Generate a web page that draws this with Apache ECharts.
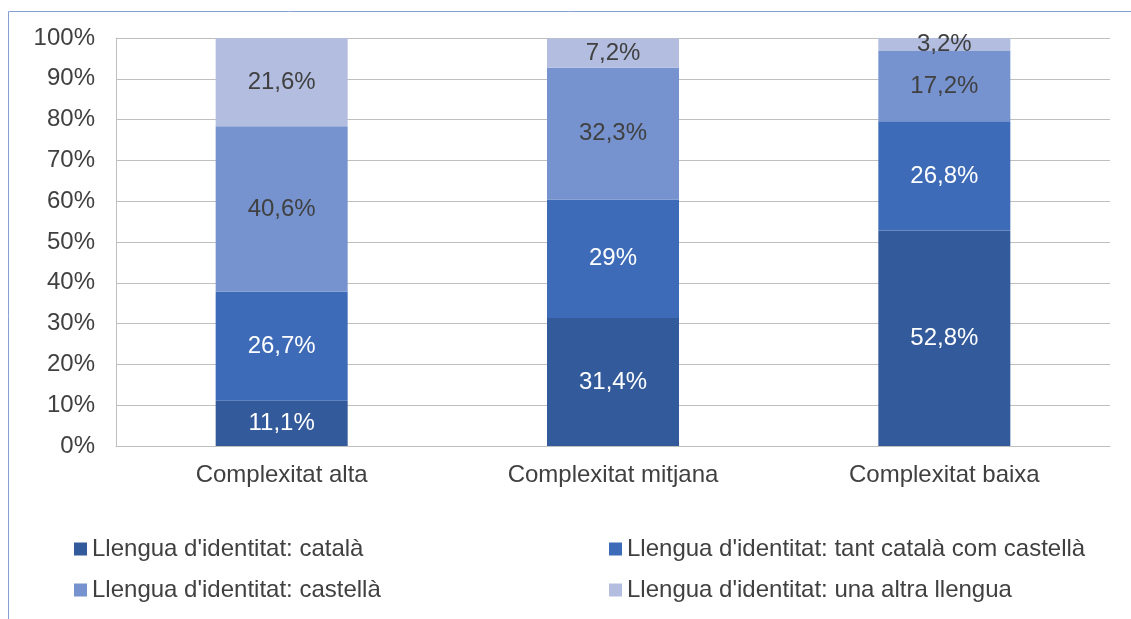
<!DOCTYPE html>
<html>
<head>
<meta charset="utf-8">
<script src="https://cdn.jsdelivr.net/npm/echarts@6/dist/echarts.min.js"></script>
<style>
  html, body { margin: 0; padding: 0; background: #fff; }
  #main { width: 1131px; height: 619px; }
</style>
</head>
<body>
<div id="main"></div>
<script>
// categories and values (percent)
var categories = ['Complexitat alta', 'Complexitat mitjana', 'Complexitat baixa'];
var seriesNames = [
  "Llengua d'identitat: català",
  "Llengua d'identitat: tant català com castellà",
  "Llengua d'identitat: castellà",
  "Llengua d'identitat: una altra llengua"
];
var catala = [11.1, 31.4, 52.8];
var tantCatalaCastella = [26.7, 29, 26.8];
var castella = [40.6, 32.3, 17.2];
var altraLlengua = [21.6, 7.2, 3.2];
var yTicks = [0, 10, 20, 30, 40, 50, 60, 70, 80, 90, 100];

var colors = ['#335a9b', '#3e6bb8', '#7693d0', '#b2bde0'];
var labelColors = ['#ffffff', '#ffffff', '#404040', '#404040'];
var values = [catala, tantCatalaCastella, castella, altraLlengua];
var font = '"Liberation Sans", Arial, sans-serif';
var fs = 24;

function fmt(v) {
  return String(v).replace('.', ',') + '%';
}

var series = values.map(function (arr, i) {
  return {
    name: seriesNames[i],
    type: 'bar',
    stack: 'total',
    barWidth: 132,
    data: arr,
    itemStyle: { color: colors[i] },
    label: {
      show: true,
      position: 'inside',
      color: labelColors[i],
      fontFamily: font,
      fontSize: fs,
      formatter: function (p) { return fmt(p.value); }
    }
  };
});

var dom = document.getElementById('main');
var myChart = echarts.init(dom);
var option = {
  animation: false,
  textStyle: { fontFamily: font },
  graphic: [{
    type: 'rect',
    shape: { x: 8.5, y: 11.5, width: 1200, height: 700 },
    style: { fill: 'none', stroke: '#86a0d6', lineWidth: 1 },
    silent: true
  }],
  grid: { left: 116, right: 21, top: 38, bottom: 173 },
  legend: [{
    data: [seriesNames[0], seriesNames[2]],
    orient: 'vertical',
    left: 69,
    top: 532,
    itemWidth: 13,
    itemHeight: 13,
    itemGap: 17,
    icon: 'rect',
    textStyle: { color: '#404040', fontSize: fs, fontFamily: font }
  }, {
    data: [seriesNames[1], seriesNames[3]],
    orient: 'vertical',
    left: 604,
    top: 532,
    itemWidth: 13,
    itemHeight: 13,
    itemGap: 17,
    icon: 'rect',
    textStyle: { color: '#404040', fontSize: fs, fontFamily: font }
  }],
  xAxis: {
    type: 'category',
    data: categories,
    axisLine: { lineStyle: { color: '#bfbfbf', width: 1 } },
    axisTick: { show: false },
    axisLabel: { color: '#404040', fontSize: fs, margin: 17, fontFamily: font }
  },
  yAxis: {
    type: 'value',
    min: yTicks[0],
    max: yTicks[yTicks.length - 1],
    interval: yTicks[1] - yTicks[0],
    axisLine: { show: true, lineStyle: { color: '#bfbfbf', width: 1 } },
    axisTick: { show: false },
    splitLine: { lineStyle: { color: '#bfbfbf', width: 1 } },
    axisLabel: {
      color: '#404040', fontSize: fs, margin: 21, fontFamily: font,
      formatter: function (v) { return v + '%'; }
    }
  },
  series: series
};
myChart.setOption(option, true);
window.onresize = function () { myChart.resize(); };
</script>
</body>
</html>
